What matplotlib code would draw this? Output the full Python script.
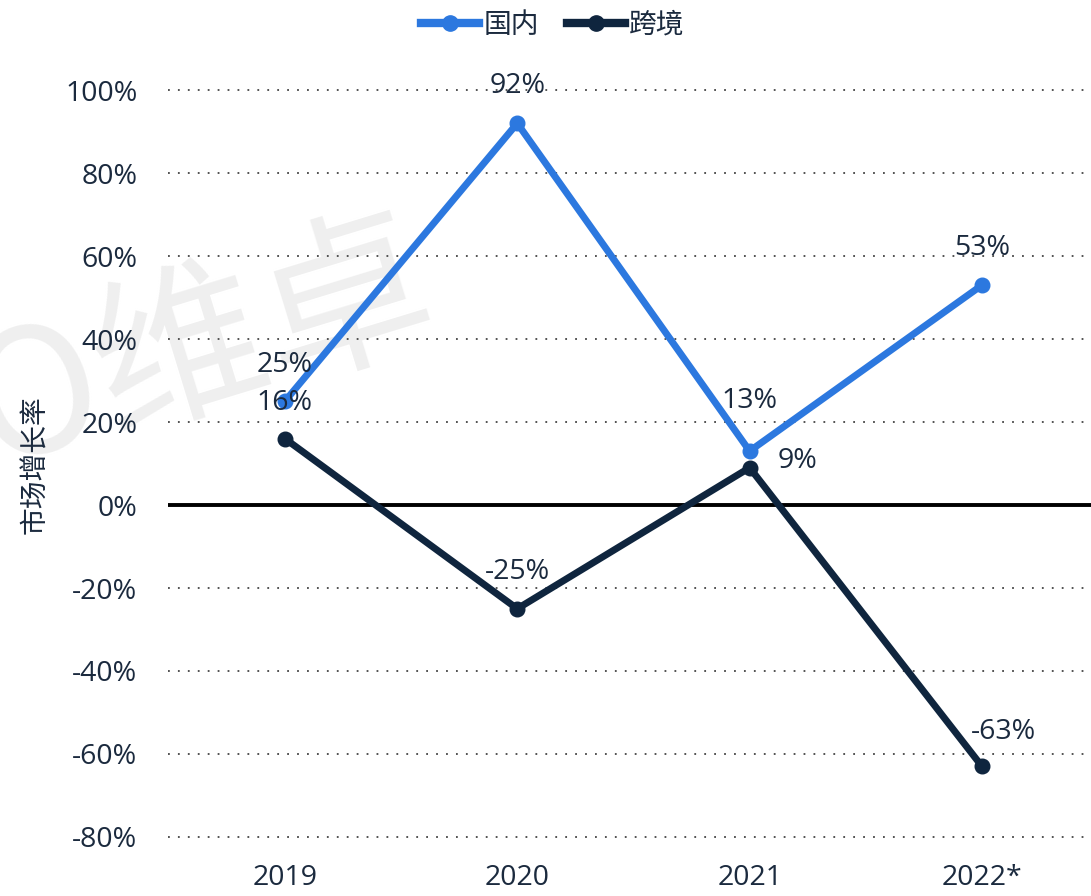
import matplotlib
matplotlib.use("Agg")
import matplotlib.pyplot as plt
from matplotlib.lines import Line2D

plt.rcParams['font.family'] = ['Open Sans', 'Noto Sans CJK SC', 'DejaVu Sans']

years = ["2019", "2020", "2021", "2022*"]
domestic = [25, 92, 13, 53]
crossborder = [16, -25, 9, -63]
series_names = ["国内", "跨境"]
yticks = [-80, -60, -40, -20, 0, 20, 40, 60, 80, 100]
ylabel = "市场增长率"

blue = "#2c78df"
navy = "#0f253e"
text_c = "#1b2a3e"
cjk = ['Noto Sans CJK SC', 'DejaVu Sans']

# label offsets in pixels (style only)
dom_off = [(0, 36), (0, 37), (0, 50), (0, 37)]
cb_off = [(0, 36), (0, 37), (48, 7), (21, 34)]

W, H = 1091, 896
fig = plt.figure(figsize=(W / 100, H / 100), dpi=100)
ax = fig.add_axes([168 / W, 1 - 849 / H, (W - 168) / W, (849 - 71) / H])
x = list(range(len(years)))

# watermark (behind everything)
ax.text(202 / W, 1 - 350 / H, "O维卓", fontsize=124, color="#efefef",
        rotation=17, ha="center", va="center", zorder=0, clip_on=False,
        transform=fig.transFigure, family=cjk)

ax.set_xlim(-0.503, 3.469)
ax.set_ylim(-82.9, 104.6)
for t in yticks:
    if t == 0:
        ax.axhline(0, color="black", lw=2.8, zorder=2)
    else:
        ax.axhline(t, color="#444444", lw=1.3, ls=(0, (1, 4.5)), zorder=1)

ax.plot(x, domestic, color=blue, lw=5, marker="o", ms=10.5, zorder=4,
        solid_capstyle="round")
ax.plot(x, crossborder, color=navy, lw=5, marker="o", ms=10.5, zorder=3,
        solid_capstyle="round")

for xi, v, off in zip(x, domestic, dom_off):
    ax.annotate(f"{v}%", (xi, v), xytext=off, textcoords="offset pixels",
                ha="center", va="center", fontsize=20.5, color=text_c, zorder=5)
for xi, v, off in zip(x, crossborder, cb_off):
    ax.annotate(f"{v}%", (xi, v), xytext=off, textcoords="offset pixels",
                ha="center", va="center", fontsize=20.5, color=text_c, zorder=5)

ax.set_xticks(x)
ax.set_xticklabels(years)
ax.set_yticks(yticks)
ax.set_yticklabels([f"{t}%" for t in yticks])
ax.tick_params(axis="both", length=0, labelsize=20.5, labelcolor=text_c)
ax.tick_params(axis="y", pad=22)
ax.tick_params(axis="x", pad=11)
for s in ax.spines.values():
    s.set_visible(False)
ax.patch.set_alpha(0)

fig.text(35 / W, 1 - 465 / H, ylabel, rotation=90, ha="center", va="center",
         fontsize=20, color=text_c, family=cjk)

handles = [Line2D([], [], color=blue, lw=6, marker="o", ms=11),
           Line2D([], [], color=navy, lw=6, marker="o", ms=11)]
leg = fig.legend(handles, series_names, loc="center", bbox_to_anchor=(553 / W, 1 - 25 / H),
                 ncol=2, frameon=False, handlelength=2.1, handletextpad=0.15,
                 columnspacing=1.0, prop={"family": cjk, "size": 20})
for t in leg.get_texts():
    t.set_color(text_c)

fig.savefig("out.png", dpi=100)
